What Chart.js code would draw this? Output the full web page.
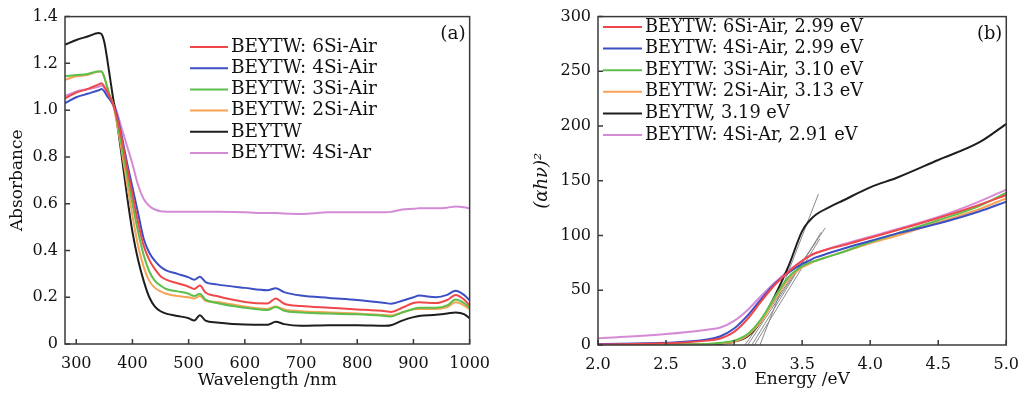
<!DOCTYPE html>
<html>
<head>
<meta charset="utf-8">
<script src="https://cdn.jsdelivr.net/npm/chart.js@4/dist/chart.umd.min.js"></script>
<style>
  body { margin: 0; background: #fff; width: 1029px; height: 395px; position: relative; overflow: hidden; }
  .panel { position: absolute; top: 0; height: 395px; }
</style>
</head>
<body>
<div class="panel" style="left:0;width:500px"><canvas id="absChart" width="500" height="395"></canvas></div>
<div class="panel" style="left:520px;width:509px"><canvas id="taucChart" width="509" height="395"></canvas></div>
<script>
// (a) absorbance spectra
const wavelength = [280, 300, 320, 340, 345, 350, 355, 360, 365, 370, 380, 390, 400, 410, 420, 430, 440, 450, 460, 480,
  500, 510, 520, 530, 550, 600, 640, 655, 670, 700, 750, 800, 850, 860, 880, 900, 910, 940, 960, 975, 990, 1000];
const abs6SiAir = [1.05, 1.075, 1.09, 1.11, 1.115, 1.10, 1.08, 1.055, 1.03, 0.99, 0.89, 0.76, 0.64, 0.52, 0.42, 0.36, 0.32, 0.29, 0.275, 0.26,
  0.245, 0.235, 0.25, 0.22, 0.205, 0.18, 0.173, 0.195, 0.172, 0.162, 0.155, 0.148, 0.14, 0.137, 0.155, 0.175, 0.178, 0.175, 0.188, 0.21, 0.19, 0.165];
const abs4SiAir = [1.03, 1.055, 1.07, 1.085, 1.09, 1.08, 1.06, 1.045, 1.025, 1.0, 0.90, 0.78, 0.67, 0.56, 0.45, 0.39, 0.355, 0.33, 0.315, 0.30,
  0.285, 0.275, 0.288, 0.265, 0.255, 0.24, 0.23, 0.238, 0.222, 0.207, 0.197, 0.188, 0.175, 0.172, 0.185, 0.20, 0.207, 0.20, 0.21, 0.228, 0.21, 0.187];
const abs3SiAir = [1.145, 1.15, 1.155, 1.165, 1.165, 1.14, 1.10, 1.06, 1.03, 0.985, 0.86, 0.73, 0.60, 0.48, 0.38, 0.31, 0.27, 0.25, 0.235, 0.225,
  0.215, 0.205, 0.215, 0.19, 0.175, 0.155, 0.145, 0.158, 0.142, 0.135, 0.13, 0.127, 0.12, 0.118, 0.135, 0.15, 0.155, 0.155, 0.165, 0.19, 0.175, 0.155];
const abs2SiAir = [1.13, 1.145, 1.15, 1.165, 1.165, 1.14, 1.10, 1.06, 1.03, 0.975, 0.84, 0.69, 0.55, 0.42, 0.33, 0.27, 0.24, 0.225, 0.215, 0.205,
  0.20, 0.195, 0.205, 0.185, 0.18, 0.16, 0.15, 0.16, 0.148, 0.14, 0.135, 0.13, 0.124, 0.122, 0.135, 0.148, 0.15, 0.15, 0.158, 0.178, 0.165, 0.148];
const absBEYTW = [1.28, 1.30, 1.315, 1.33, 1.325, 1.29, 1.22, 1.14, 1.06, 0.99, 0.82, 0.64, 0.48, 0.36, 0.27, 0.20, 0.16, 0.14, 0.13, 0.12,
  0.11, 0.10, 0.123, 0.10, 0.092, 0.083, 0.082, 0.095, 0.085, 0.078, 0.08, 0.08, 0.078, 0.08, 0.10, 0.115, 0.12, 0.125, 0.13, 0.135, 0.128, 0.11];
const abs4SiAr = [1.06, 1.08, 1.09, 1.10, 1.105, 1.095, 1.075, 1.055, 1.035, 1.01, 0.93, 0.85, 0.77, 0.68, 0.62, 0.59, 0.575, 0.568, 0.566, 0.565,
  0.565, 0.565, 0.566, 0.565, 0.565, 0.563, 0.56, 0.56, 0.558, 0.556, 0.563, 0.563, 0.563, 0.565, 0.575, 0.578, 0.58, 0.58, 0.583, 0.588, 0.585, 0.58];
const waveTicks = [300, 400, 500, 600, 700, 800, 900, 1000];

// (b) Tauc plot
const energy = [2.0, 2.5, 2.8, 2.9, 3.0, 3.1, 3.2, 3.3, 3.4, 3.5, 3.55, 3.6, 3.7, 3.8, 4.0, 4.2, 4.5, 4.8, 5.0];
const tauc6SiAir = [0.5, 1.5, 4, 6, 12, 24, 40, 55, 67, 77, 81, 84, 88, 91, 98, 105, 116, 128, 137];
const tauc4SiAir = [1, 2, 5, 8, 15, 27, 42, 56, 66, 74, 77, 80, 84, 88, 95, 102, 111, 122, 131];
const tauc3SiAir = [0, 0.5, 1, 2, 4, 10, 24, 44, 62, 72, 75, 77, 81, 85, 94, 102, 114, 127, 139];
const tauc2SiAir = [0, 0.3, 0.8, 1.5, 3, 9, 22, 42, 60, 71, 74, 77, 81, 85, 93, 100, 112, 124, 134];
const taucBEYTW = [0, 0.3, 0.6, 1, 3, 8, 22, 45, 72, 104, 113, 119, 126, 132, 144, 153, 169, 185, 202];
const tauc4SiAr = [6, 10, 14, 16, 22, 32, 45, 57, 68, 77, 81, 84, 88, 92, 99, 106, 117, 131, 142];
const fitStartE = [3.19, 3.10, 3.13, 3.15, 3.08];
const fitEndE = [3.62, 3.67, 3.64, 3.63, 3.60];
const fitEndY = [138, 107, 103, 97, 94];

const labelsA = ['BEYTW: 6Si-Air', 'BEYTW: 4Si-Air', 'BEYTW: 3Si-Air', 'BEYTW: 2Si-Air', 'BEYTW', 'BEYTW: 4Si-Ar'];
const labelsB = ['BEYTW: 6Si-Air, 2.99 eV', 'BEYTW: 4Si-Air, 2.99 eV', 'BEYTW: 3Si-Air, 3.10 eV', 'BEYTW: 2Si-Air, 3.13 eV', 'BEYTW, 3.19 eV', 'BEYTW: 4Si-Ar, 2.91 eV'];
const colors = ['#f0484a', '#3d4fc4', '#5cbf4c', '#f7a255', '#1e1e1e', '#d58ad6'];

Chart.defaults.font.family = "'DejaVu Serif', serif";
Chart.defaults.color = '#111';

const pts = (xs, ys) => xs.map((x, i) => ({x: x, y: ys[i]}));

// box, inward ticks, legend and panel letter
const frame = {
  id: 'frame',
  afterDatasetsDraw(chart, args, o) {
    const {ctx, chartArea: a, scales} = chart;
    ctx.save();
    ctx.strokeStyle = '#3a3a3a';
    ctx.lineWidth = 1.5;
    ctx.strokeRect(a.left, a.top, a.right - a.left, a.bottom - a.top);
    ctx.beginPath();
    scales.x.ticks.forEach(t => {
      const px = scales.x.getPixelForValue(t.value);
      ctx.moveTo(px, a.bottom); ctx.lineTo(px, a.bottom - 5);
    });
    scales.y.ticks.forEach(t => {
      const py = scales.y.getPixelForValue(t.value);
      ctx.moveTo(a.left, py); ctx.lineTo(a.left + 5, py);
    });
    ctx.stroke();

    ctx.font = o.font + "px 'DejaVu Serif'";
    ctx.textBaseline = 'middle';
    ctx.fillStyle = '#111';
    chart.data.datasets.forEach((ds, i) => {
      if (!ds.label) return;
      const y = o.y + i * o.gap;
      ctx.strokeStyle = ds.borderColor;
      ctx.lineWidth = 2;
      ctx.beginPath(); ctx.moveTo(o.x, y); ctx.lineTo(o.x + o.len, y); ctx.stroke();
      ctx.fillText(ds.label, o.x + o.len + 3, y);
    });
    ctx.textAlign = 'right';
    ctx.fillText(o.panel, a.right - 4, a.top + 18);
    ctx.restore();
  }
};

function lineSet(label, color, data) {
  return {label: label, data: data, borderColor: color, backgroundColor: color, borderWidth: 2,
    pointRadius: 0, cubicInterpolationMode: 'monotone', fill: false};
}

function axes(o) {
  return {
    x: {
      type: 'linear', min: o.xmin, max: o.xmax,
      afterBuildTicks: s => { s.ticks = o.xticks.map(v => ({value: v})); },
      grid: {display: false, drawTicks: false}, border: {display: false},
      ticks: {font: {size: 16}, padding: 10, maxRotation: 0, callback: o.xfmt},
      title: {display: true, text: o.xtitle, font: {size: 17}, padding: {top: 0, bottom: o.xtpad}},
      afterFit: s => { s.height = o.xh; }
    },
    y: {
      min: o.ymin, max: o.ymax,
      grid: {display: false, drawTicks: false}, border: {display: false},
      ticks: {font: {size: 16}, padding: 7, stepSize: o.ystep, callback: o.yfmt},
      title: {display: true, text: o.ytitle, font: o.yfont, padding: {top: o.ytpad, bottom: 0}},
      afterFit: s => { s.width = o.yw; }
    }
  };
}

new Chart(document.getElementById('absChart'), {
  type: 'line',
  data: {
    datasets: [abs6SiAir, abs4SiAir, abs3SiAir, abs2SiAir, absBEYTW, abs4SiAr]
      .map((ys, i) => lineSet(labelsA[i], colors[i], pts(wavelength, ys)))
  },
  options: {
    responsive: false, animation: false,
    layout: {padding: {left: 0, top: 15, right: 26, bottom: 0}},
    plugins: {legend: {display: false}, tooltip: {enabled: false},
      frame: {x: 190, y: 47, gap: 21.2, len: 38, font: 18.5, panel: '(a)'}},
    scales: axes({xmin: 280, xmax: 1000, xticks: waveTicks, xfmt: v => v, xtitle: 'Wavelength /nm', xtpad: 4, xh: 51,
      ymin: 0, ymax: 1.4, ystep: 0.2, yfmt: v => v === 0 ? '0' : v.toFixed(1), ytitle: 'Absorbance',
      yfont: {size: 17}, ytpad: 7, yw: 65})
  },
  plugins: [frame]
});

const fitSets = fitStartE.map((e, i) => ({
  label: '', data: [{x: e, y: 0}, {x: fitEndE[i], y: fitEndY[i]}],
  borderColor: '#8a8a8a', borderWidth: 1, pointRadius: 0, fill: false
}));

new Chart(document.getElementById('taucChart'), {
  type: 'line',
  data: {
    datasets: [tauc6SiAir, tauc4SiAir, tauc3SiAir, tauc2SiAir, taucBEYTW, tauc4SiAr]
      .map((ys, i) => lineSet(labelsB[i], colors[i], pts(energy, ys))).concat(fitSets)
  },
  options: {
    responsive: false, animation: false,
    layout: {padding: {left: 0, top: 14, right: 18, bottom: 0}},
    plugins: {legend: {display: false}, tooltip: {enabled: false},
      frame: {x: 83, y: 27, gap: 21.6, len: 39, font: 17.8, panel: '(b)'}},
    scales: axes({xmin: 2, xmax: 5, xticks: [2, 2.5, 3, 3.5, 4, 4.5, 5], xfmt: v => v.toFixed(1), xtitle: 'Energy /eV', xtpad: 5, xh: 50,
      ymin: 0, ymax: 300, ystep: 50, yfmt: v => v, ytitle: '(αhν)²',
      yfont: {size: 18, style: 'italic'}, ytpad: 12, yw: 78})
  },
  plugins: [frame]
});
</script>
</body>
</html>
